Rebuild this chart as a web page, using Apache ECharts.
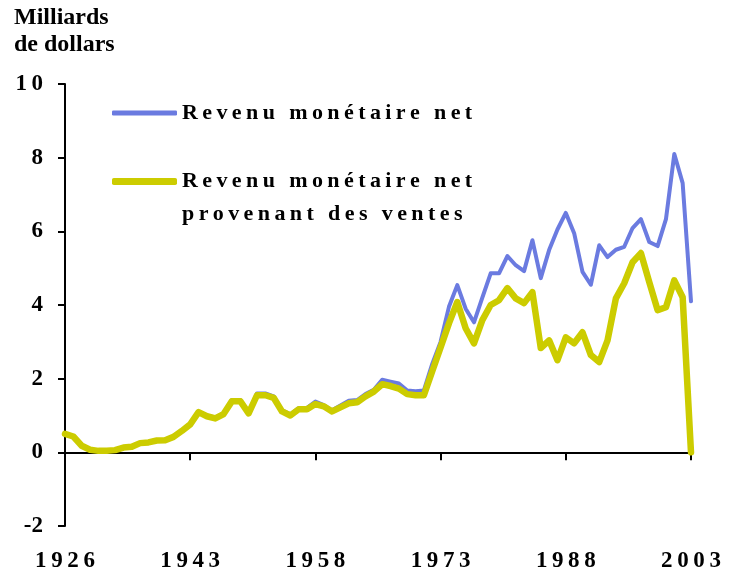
<!DOCTYPE html>
<html>
<head>
<meta charset="utf-8">
<script src="https://cdn.jsdelivr.net/npm/echarts@6/dist/echarts.min.js"></script>
<style>
  html, body { margin: 0; padding: 0; background: #fff; }
  #chart { width: 733px; height: 575px; }
</style>
</head>
<body>
<div id="chart"></div>
<script>
// Years covered by the two series (one point per year)
const years = [];
for (let y = 1928; y <= 2003; y++) years.push(String(y));

// Labels shown under every 15th year tick
const tickLabels = ['1926', '1943', '1958', '1973', '1988', '2003'];

// Net cash income, billions of dollars
const revenuNet = [
  0.50, 0.43, 0.18, 0.07, 0.04, 0.04, 0.06, 0.13, 0.15, 0.25,
  0.27, 0.32, 0.33, 0.42, 0.58, 0.76, 1.10, 1.00, 0.94, 1.06,
  1.42, 1.42, 1.08, 1.60, 1.60, 1.52, 1.14, 1.03, 1.20, 1.21,
  1.38, 1.28, 1.14, 1.27, 1.40, 1.42, 1.58, 1.70, 1.97, 1.92,
  1.87, 1.68, 1.66, 1.68, 2.40, 3.00, 3.95, 4.54, 3.90, 3.53,
  4.20, 4.86, 4.86, 5.33, 5.08, 4.92, 5.76, 4.73, 5.49, 6.05,
  6.50, 5.95, 4.90, 4.55, 5.62, 5.30, 5.50, 5.58, 6.09, 6.33,
  5.71, 5.60, 6.33, 8.10, 7.31, 4.10
];

// Net cash income from sales, billions of dollars
const revenuVentes = [
  0.50, 0.43, 0.18, 0.07, 0.04, 0.04, 0.06, 0.13, 0.15, 0.25,
  0.27, 0.32, 0.33, 0.42, 0.58, 0.76, 1.09, 0.98, 0.92, 1.04,
  1.39, 1.39, 1.06, 1.55, 1.55, 1.48, 1.11, 1.00, 1.17, 1.17,
  1.31, 1.25, 1.11, 1.22, 1.33, 1.36, 1.52, 1.65, 1.85, 1.80,
  1.73, 1.58, 1.55, 1.55, 2.20, 2.85, 3.50, 4.08, 3.37, 2.96,
  3.59, 4.00, 4.13, 4.46, 4.18, 4.05, 4.35, 2.83, 3.04, 2.50,
  3.12, 2.96, 3.26, 2.64, 2.45, 3.04, 4.18, 4.59, 5.16, 5.41,
  4.62, 3.86, 3.94, 4.67, 4.21, 0.00
];

const NAME_NET = 'Revenu monétaire net';
const NAME_VENTES = 'Revenu monétaire net provenant des ventes';

const BLUE = '#6b7be0';
const YELLOW = '#cccc00';
const SERIF = '"Liberation Serif", "Times New Roman", serif';

// Widen the tracking of a string with thin spaces between characters
const spaced = s => s.split('').join('\u2009');
// Same, but only between consecutive digits (keeps "-2" tight)
const spacedDigits = s => s.replace(/(\d)(?=\d)/g, '$1\u2009');

const boldSerif = size => ({
  fontFamily: SERIF,
  fontWeight: 'bold',
  fontSize: size,
  color: '#000'
});

const chart = echarts.init(document.getElementById('chart'), null, { renderer: 'canvas' });

chart.setOption({
  animation: false,
  backgroundColor: '#ffffff',
  title: {
    text: 'Milliards\nde dollars',
    left: 14,
    top: 4,
    padding: 0,
    textStyle: Object.assign(boldSerif(24), { lineHeight: 27 })
  },
  legend: [
    {
      data: [NAME_NET],
      left: 112,
      top: 100,
      padding: 0,
      itemWidth: 65,
      itemHeight: 5,
      icon: 'roundRect',
      selectedMode: false,
      formatter: name => spaced(name),
      textStyle: Object.assign(boldSerif(22), { lineHeight: 26 })
    },
    {
      data: [NAME_VENTES],
      left: 112,
      top: 132,
      padding: 0,
      itemWidth: 65,
      itemHeight: 7,
      icon: 'roundRect',
      selectedMode: false,
      // a leading empty line keeps the swatch level with the first text line
      formatter: () => '\n' + spaced('Revenu monétaire net') + '\n' + spaced('provenant des ventes'),
      textStyle: Object.assign(boldSerif(22), { lineHeight: 33 })
    }
  ],
  grid: {
    left: 65,
    right: 42,
    top: 84,
    bottom: 49,
    containLabel: false,
    outerBoundsMode: 'none'
  },
  xAxis: [
    {
      // axis line and ticks crossing at zero
      type: 'category',
      data: years,
      boundaryGap: false,
      axisLine: {
        onZero: true,
        lineStyle: { color: '#000', width: 2 }
      },
      axisTick: {
        show: true,
        inside: false,
        length: 8,
        interval: idx => idx % 15 === 0,
        lineStyle: { color: '#000', width: 2 }
      },
      axisLabel: { show: false },
      splitLine: { show: false }
    },
    {
      // year labels along the bottom edge of the plot
      type: 'category',
      data: years,
      boundaryGap: false,
      position: 'bottom',
      axisLine: { show: false, onZero: false },
      axisTick: { show: false },
      axisLabel: Object.assign(boldSerif(23), {
        interval: idx => idx % 15 === 0,
        margin: 24,
        formatter: (value, idx) => spaced(tickLabels[Math.round(idx / 15)] || '')
      }),
      splitLine: { show: false }
    }
  ],
  yAxis: {
    type: 'value',
    min: -2,
    max: 10,
    interval: 2,
    axisLine: {
      show: true,
      lineStyle: { color: '#000', width: 2 }
    },
    axisTick: {
      show: true,
      inside: false,
      length: 7,
      lineStyle: { color: '#000', width: 2 }
    },
    axisLabel: Object.assign(boldSerif(23), {
      margin: 22,
      formatter: v => spacedDigits(String(v))
    }),
    splitLine: { show: false }
  },
  series: [
    {
      name: NAME_NET,
      type: 'line',
      xAxisIndex: 0,
      data: revenuNet,
      showSymbol: false,
      symbol: 'none',
      color: BLUE,
      lineStyle: { color: BLUE, width: 4, join: 'round', cap: 'round' },
      z: 2
    },
    {
      name: NAME_VENTES,
      type: 'line',
      xAxisIndex: 0,
      data: revenuVentes,
      showSymbol: false,
      symbol: 'none',
      color: YELLOW,
      lineStyle: { color: YELLOW, width: 6.5, join: 'round', cap: 'round' },
      z: 3
    }
  ]
});
</script>
</body>
</html>
